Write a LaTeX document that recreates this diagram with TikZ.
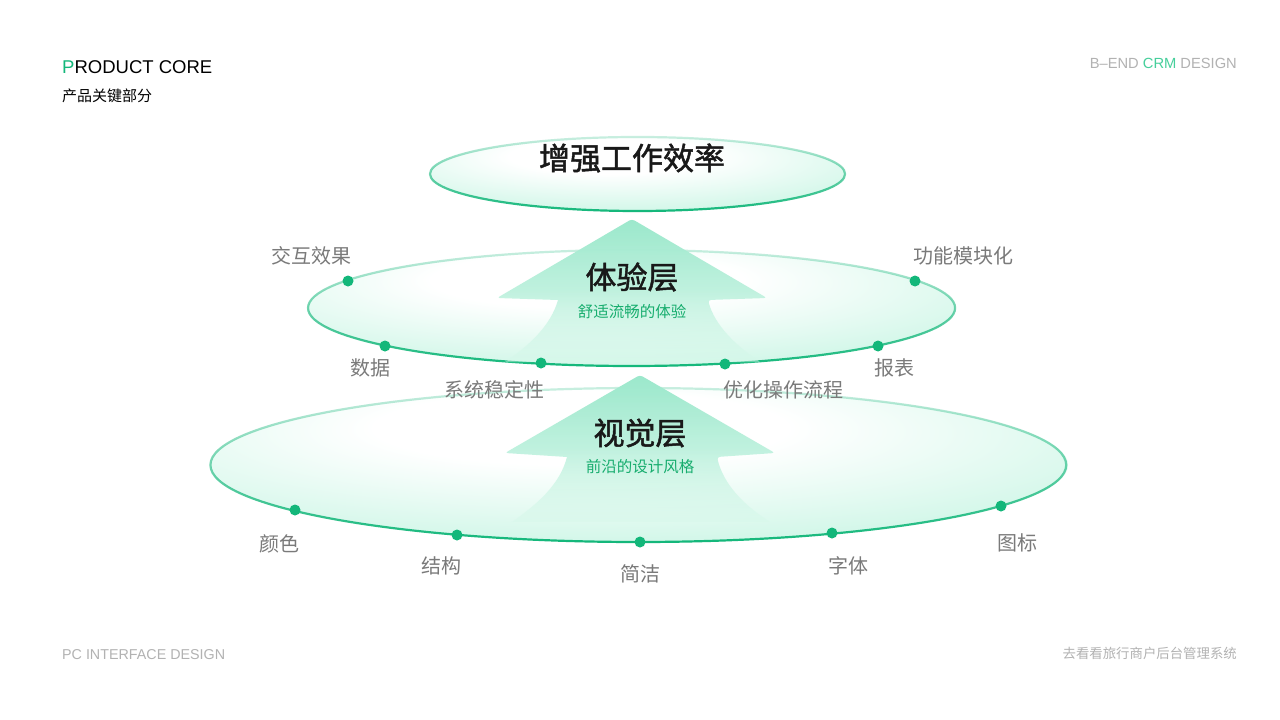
\documentclass[tikz,border=0pt]{standalone}
\usepackage{fontspec}
\setmainfont{Liberation Sans}
\newfontfamily\cjk{Noto Sans CJK SC}
\newfontfamily\cjkfb{Noto Sans CJK SC}[FakeBold=1.6]
\usetikzlibrary{fadings}
\definecolor{gmain}{HTML}{13B77A}
\definecolor{mintA}{HTML}{BDF3DE}
\definecolor{arrowTop}{HTML}{9CE8CC}
\definecolor{arrowBot}{HTML}{D6F8EA}
\definecolor{labgray}{HTML}{7A7A7A}
\definecolor{lgray}{HTML}{B2B2B2}
\definecolor{subgreen}{HTML}{17AD6E}
\definecolor{crmgreen}{HTML}{46CF9B}
\pgfdeclareradialshading{ellfill}{\pgfpoint{-4bp}{14bp}}{color(0bp)=(white); color(12bp)=(white); color(44bp)=(mintA); color(85bp)=(mintA)}
\pgfdeclareverticalshading{strokeshade}{100bp}{color(0bp)=(pgftransparent!0); color(25bp)=(pgftransparent!0); color(50bp)=(pgftransparent!40); color(80bp)=(pgftransparent!85); color(100bp)=(pgftransparent!90)}
\pgfdeclarefading{strokefade}{\pgfuseshading{strokeshade}}
\pgfdeclareverticalshading{arrowshade}{100bp}{color(0bp)=(pgftransparent!100); color(20bp)=(pgftransparent!70); color(50bp)=(pgftransparent!10); color(70bp)=(pgftransparent!0); color(100bp)=(pgftransparent!0)}
\pgfdeclarefading{arrowfade}{\pgfuseshading{arrowshade}}
\tikzset{
  ellbody/.style={shading=ellfill},
  ellline/.style={draw=gmain, line width=2.2pt, path fading=strokefade},
  arrowbody/.style={top color=arrowTop, bottom color=arrowBot, path fading=arrowfade, rounded corners=3pt},
  dot/.style={circle, fill=gmain, minimum size=11pt, inner sep=0pt},
  lab/.style={font=\cjk\fontsize{20}{24}\selectfont, text=labgray, inner sep=0pt},
  title/.style={font=\cjkfb\fontsize{31}{36}\selectfont, text=black!90, inner sep=0pt},
  subtitle/.style={font=\cjk\fontsize{15.5}{18}\selectfont, text=subgreen, inner sep=0pt},
}
\begin{document}
\begin{tikzpicture}[x=1pt,y=-1pt]
\useasboundingbox (0,0) rectangle (1280,720);
\fill[white] (0,0) rectangle (1280,720);

% header / footer
\node[anchor=base west, inner sep=0pt, font=\fontsize{18.5}{22}\selectfont] (hdr) at (62,73) {\textcolor{gmain}{P}RODUCT CORE};
\node[anchor=west, inner sep=0pt, font=\cjk\fontsize{15}{18}\selectfont] (hdrcn) at (62,96) {产品关键部分};
\node[anchor=base east, inner sep=0pt, font=\fontsize{14.7}{18}\selectfont, text=lgray] (tr) at (1237,68) {B–END \textcolor{crmgreen}{CRM} DESIGN};
\node[anchor=base west, inner sep=0pt, font=\fontsize{14.3}{17}\selectfont, text=lgray] (bl) at (62,659) {PC INTERFACE DESIGN};
\node[anchor=east, inner sep=0pt, font=\cjk\fontsize{13.4}{16}\selectfont, text=lgray] (br) at (1237,653) {去看看旅行商户后台管理系统};

% bottom ellipse
\coordinate (e3) at (639.5,465);
\shade[ellbody] (e3) ellipse [x radius=428.5pt, y radius=77pt];
\path[ellline] (e3) ellipse [x radius=428.5pt, y radius=77pt];
% arrow 2
\shade[arrowbody] (567,457) -- (505,453) -- (640,375) -- (775,453) -- (717,457)
  [sharp corners] .. controls (724,485) and (744,505) .. (770,522) -- (512,522) .. controls (536,505) and (560,485) .. cycle;

% middle ellipse
\coordinate (e2) at (631.5,308);
\shade[ellbody] (e2) ellipse [x radius=323.5pt, y radius=58pt];
\path[ellline] (e2) ellipse [x radius=323.5pt, y radius=58pt];
% arrow 1
\shade[arrowbody] (558,300) -- (497,298) -- (632,219) -- (767,298) -- (708,300)
  [sharp corners] .. controls (715,325) and (735,345) .. (760,362) -- (505,362) .. controls (530,345) and (551,325) .. cycle;

% top ellipse
\coordinate (e1) at (637.5,174);
\shade[ellbody] (e1) ellipse [x radius=207.5pt, y radius=37pt];
\path[ellline] (e1) ellipse [x radius=207.5pt, y radius=37pt];

% titles
\node[title] (t1) at (632,158) {增强工作效率};
\node[title] (t2) at (632,277) {体验层};
\node[subtitle] (s2) at (632,312) {舒适流畅的体验};
\node[title] (t3) at (640,433) {视觉层};
\node[subtitle] (s3) at (640,467) {前沿的设计风格};

% dots middle
\node[dot] (m1) at (348,281) {};
\node[dot] (m2) at (385,346) {};
\node[dot] (m3) at (541,363) {};
\node[dot] (m4) at (725,364) {};
\node[dot] (m5) at (878,346) {};
\node[dot] (m6) at (915,281) {};
% dots bottom
\node[dot] (b1) at (295,510) {};
\node[dot] (b2) at (457,535) {};
\node[dot] (b3) at (640,542) {};
\node[dot] (b4) at (832,533) {};
\node[dot] (b5) at (1001,506) {};

% labels
\node[lab] (l1) at (311,256) {交互效果};
\node[lab] (l2) at (963,256) {功能模块化};
\node[lab] (l3) at (370,368) {数据};
\node[lab] (l4) at (494,390) {系统稳定性};
\node[lab] (l5) at (783,390) {优化操作流程};
\node[lab] (l6) at (894,368) {报表};
\node[lab] (l7) at (279,544) {颜色};
\node[lab] (l8) at (441,566) {结构};
\node[lab] (l9) at (640,574) {简洁};
\node[lab] (l10) at (848,566) {字体};
\node[lab] (l11) at (1017,543) {图标};
\end{tikzpicture}
\end{document}
